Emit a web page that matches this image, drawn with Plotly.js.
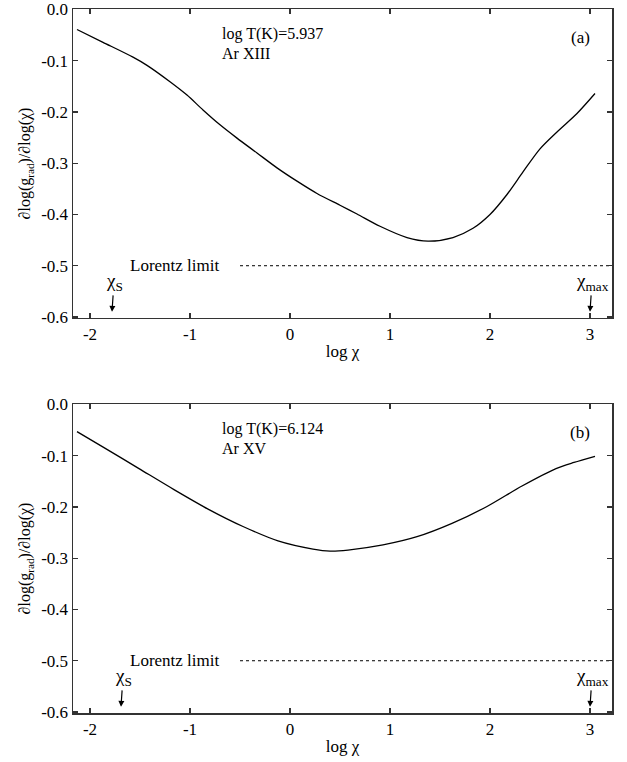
<!DOCTYPE html>
<html>
<head>
<meta charset="utf-8">
<script src="https://cdn.plot.ly/plotly-3.0.1.min.js"></script>
<style>html,body{margin:0;padding:0;background:#fff;}#chart{width:627px;height:762px;}</style>
</head>
<body>
<div id="chart"></div>
<script>
// Panel (a): Ar XIII, log T(K)=5.937
var xA = [-2.13, -1.87, -1.57, -1.43, -1.2, -1.03, -0.87, -0.7, -0.53, -0.33, -0.13, 0.07, 0.27, 0.5, 0.67, 0.9, 1.17, 1.38, 1.63, 1.83, 2.0, 2.17, 2.33, 2.5, 2.67, 2.87, 3.05];
var yA = [-0.039, -0.064, -0.093, -0.109, -0.141, -0.167, -0.196, -0.225, -0.251, -0.280, -0.309, -0.335, -0.359, -0.382, -0.399, -0.423, -0.445, -0.452, -0.445, -0.427, -0.400, -0.361, -0.317, -0.272, -0.239, -0.203, -0.164];
// Panel (b): Ar XV, log T(K)=6.124
var xB = [-2.13, -1.86, -1.51, -1.16, -0.81, -0.47, -0.12, 0.23, 0.4, 0.58, 0.93, 1.27, 1.62, 1.97, 2.32, 2.66, 2.84, 3.05];
var yB = [-0.053, -0.084, -0.125, -0.166, -0.205, -0.238, -0.266, -0.282, -0.286, -0.284, -0.274, -0.258, -0.232, -0.199, -0.159, -0.125, -0.113, -0.101];

var panelLabels = ['(a)', '(b)'];
var tempLabels = ['log T(K)=5.937', 'log T(K)=6.124'];
var ionLabels = ['Ar XIII', 'Ar XV'];
var chiS = [-1.78, -1.69];
var chiMax = [3.0, 3.0];
var lorentzValue = -0.5;
var lorentzX = [-0.5, 3.22];

var xTickVals = [-2, -1, 0, 1, 2, 3];
var xTickText = ['-2', '-1', '0', '1', '2', '3'];
var yTickVals = [0, -0.1, -0.2, -0.3, -0.4, -0.5, -0.6];
var yTickText = ['0.0', '-0.1', '-0.2', '-0.3', '-0.4', '-0.5', '-0.6'];

var FONT = 'Liberation Serif';
var FS = 17;
var traces = [];
var xs = [xA, xB], ys = [yA, yB];
for (var i = 0; i < 2; i++) {
  var xa = i === 0 ? 'x' : 'x2', ya = i === 0 ? 'y' : 'y2';
  traces.push({x: xs[i], y: ys[i], xaxis: xa, yaxis: ya, mode: 'lines', type: 'scatter',
    line: {color: '#000', width: 1.3, shape: 'spline', smoothing: 0.8}, hoverinfo: 'skip'});
  traces.push({x: lorentzX, y: [lorentzValue, lorentzValue], xaxis: xa, yaxis: ya, mode: 'lines', type: 'scatter',
    line: {color: '#000', width: 1, dash: 'dot'}, hoverinfo: 'skip'});
}

function xAxis(anchor) {
  return {range: [-2.17, 3.22], anchor: anchor, showline: true, mirror: 'ticks', linecolor: '#333', linewidth: 1.5,
    ticks: 'inside', ticklen: 5, tickwidth: 1.2, tickcolor: '#333', tickvals: xTickVals, ticktext: xTickText,
    showgrid: false, zeroline: false, tickfont: {family: FONT, size: FS, color: '#000'},
    title: {text: 'log χ', font: {family: FONT, size: FS, color: '#000'}, standoff: 2}};
}
function yAxis(domain, anchor) {
  return {range: [-0.602, 0.001], domain: domain, anchor: anchor, showline: true, mirror: 'ticks', linecolor: '#333', linewidth: 1.5,
    ticks: 'inside', ticklen: 5, tickwidth: 1.2, tickcolor: '#333', tickvals: yTickVals, ticktext: yTickText,
    showgrid: false, zeroline: false, tickfont: {family: FONT, size: FS, color: '#000'},
    title: {text: '∂log(g<sub>rad</sub>)/∂log(χ)', font: {family: FONT, size: 16, color: '#000'}, standoff: 6}};
}

var annotations = [];
for (var j = 0; j < 2; j++) {
  var xr = j === 0 ? 'x' : 'x2', yr = j === 0 ? 'y' : 'y2';
  var tf = {family: FONT, size: FS, color: '#000'};
  var tf2 = {family: FONT, size: 16, color: '#000'};
  annotations.push({xref: xr, yref: yr, x: 2.9, y: -0.054, text: panelLabels[j], showarrow: false, font: tf});
  annotations.push({xref: xr, yref: yr, x: -0.7, y: -0.048, text: tempLabels[j], showarrow: false, xanchor: 'left', font: tf2});
  annotations.push({xref: xr, yref: yr, x: -0.7, y: -0.086, text: ionLabels[j], showarrow: false, xanchor: 'left', font: tf2});
  annotations.push({xref: xr, yref: yr, x: -1.15, y: lorentzValue, text: 'Lorentz limit', showarrow: false, font: tf});
  annotations.push({xref: xr, yref: yr, x: chiS[j], y: -0.59, text: 'χ<sub>S</sub>', showarrow: true,
    arrowhead: 2, arrowsize: 1, arrowwidth: 1.2, arrowcolor: '#000', ax: 2, ay: -30, font: {family: FONT, size: 19, color: '#000'}});
  annotations.push({xref: xr, yref: yr, x: chiMax[j], y: -0.59, text: 'χ<sub>max</sub>', showarrow: true,
    arrowhead: 2, arrowsize: 1, arrowwidth: 1.2, arrowcolor: '#000', ax: 2, ay: -30, font: {family: FONT, size: 19, color: '#000'}});
}

var layout = {
  width: 627, height: 762, showlegend: false,
  paper_bgcolor: '#fff', plot_bgcolor: '#fff',
  margin: {l: 73, r: 15, t: 9, b: 49},
  font: {family: FONT, size: FS, color: '#000'},
  xaxis: xAxis('y'),
  yaxis: yAxis([0.5611, 1], 'x'),
  xaxis2: xAxis('y2'),
  yaxis2: yAxis([0, 0.4389], 'x2'),
  annotations: annotations
};

Plotly.newPlot('chart', traces, layout, {staticPlot: true, displayModeBar: false});
</script>
</body>
</html>
